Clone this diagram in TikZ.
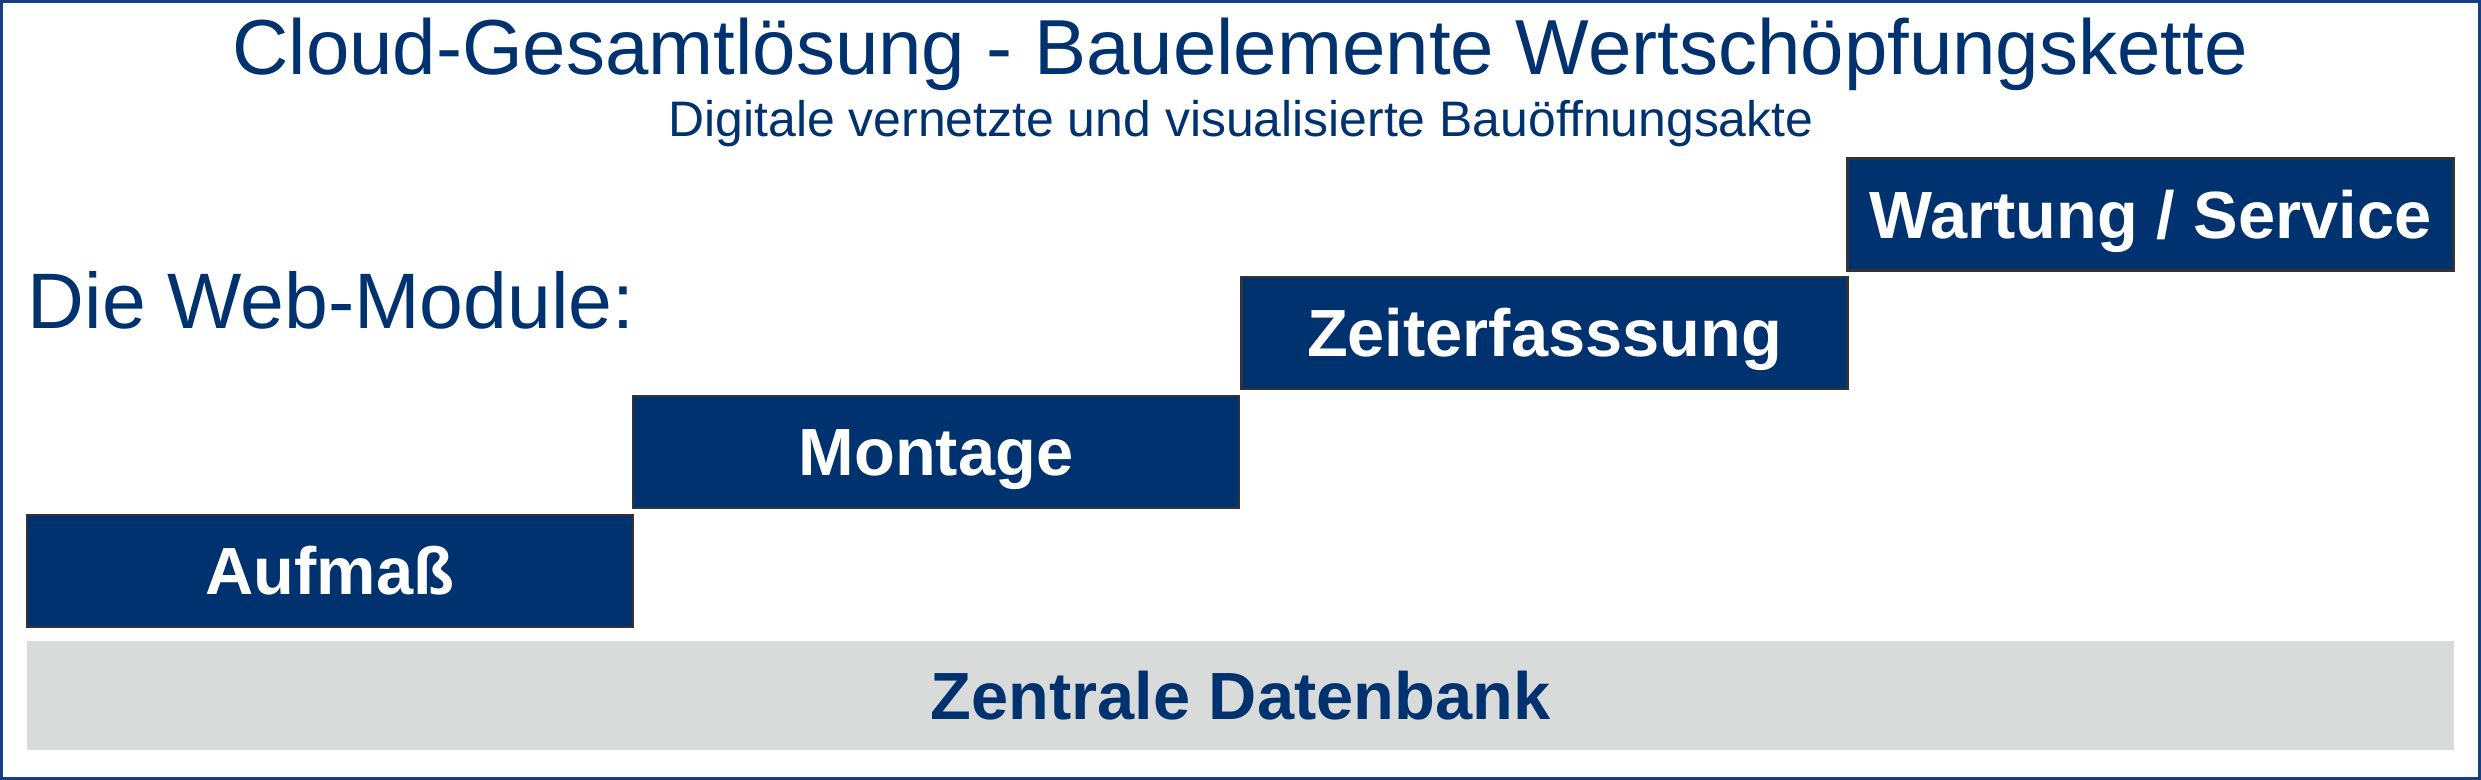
\documentclass[tikz,border=0pt]{standalone}
\usepackage{fontspec}
\setmainfont{Liberation Sans}
\usepackage{xcolor}
\usepackage{tikz}

\definecolor{cloudblau}{RGB}{0,50,112}
\definecolor{rahmenblau}{RGB}{22,62,132}
\definecolor{datengrau}{RGB}{217,219,218}

\tikzset{
  modul/.style={draw=black!80, line width=0.25mm, fill=cloudblau, text=white,
    font=\fontsize{19}{22}\selectfont\bfseries, minimum width=\W,
    minimum height=\H, inner sep=0pt, text height=13.6pt, text depth=0pt},
  titeltext/.style={text=cloudblau, inner sep=0pt},
}

\begin{document}
\begin{tikzpicture}[x=0.1mm,y=-0.1mm]
\def \W {60.6mm}
\def \H {11.2mm}

\useasboundingbox (0,0) rectangle (2481,780);

% frame
\draw[rahmenblau,line width=0.3mm] (1.5,1.5) rectangle (2479,778.5);

% headings
\node[titeltext,anchor=base,font=\fontsize{22.2}{26}\selectfont] (titel) at (1240,75)
  {Cloud-Gesamtlösung - Bauelemente Wertschöpfungskette};
\node[titeltext,anchor=base,font=\fontsize{14.2}{17}\selectfont] (untertitel) at (1241,137)
  {Digitale vernetzte und visualisierte Bauöffnungsakte};
\node[titeltext,anchor=base west,font=\fontsize{22.4}{26}\selectfont] (webmodule) at (27,329)
  {Die Web-Module:};

% modules
\node[modul] (aufmass) at (330,571) {Aufmaß};
\node[modul] (montage) at (936,452) {Montage};
\node[modul] (zeit) at (1544.5,333) {Zeiterfasssung};
\node[modul] (wartung) at (2150.5,214.5) {Wartung / Service};

% database
\node[fill=datengrau, minimum width=242.7mm, minimum height=10.9mm, inner sep=0pt,
  text=cloudblau, font=\fontsize{19}{22}\selectfont\bfseries,
  text height=13.6pt, text depth=0pt] (datenbank) at (1240.5,695.5) {Zentrale Datenbank};

\end{tikzpicture}
\end{document}
